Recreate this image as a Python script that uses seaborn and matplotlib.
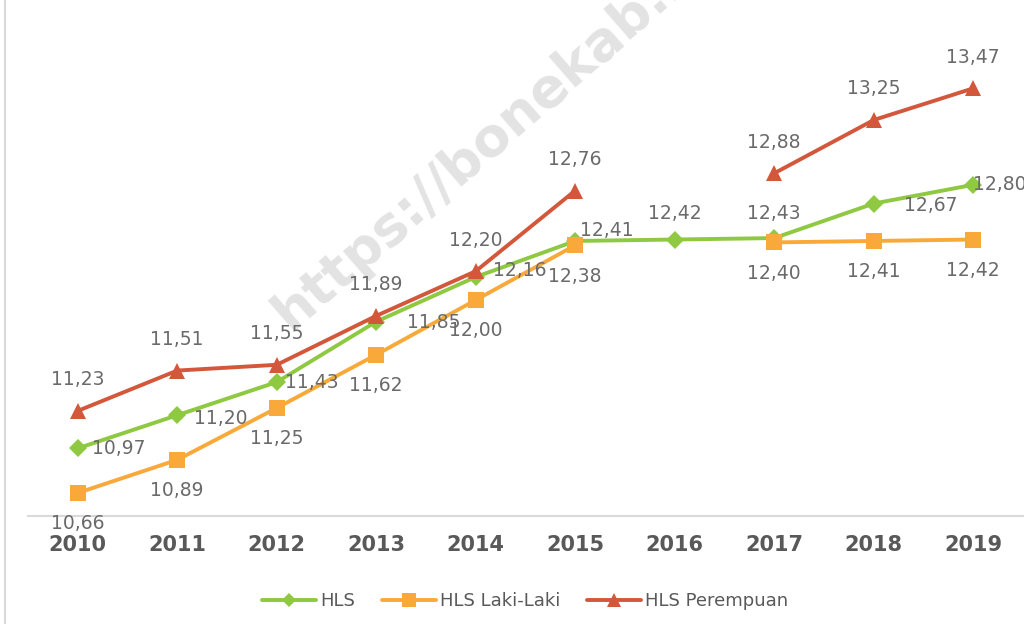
import matplotlib
matplotlib.use("Agg")
import matplotlib.pyplot as plt
import numpy as np
import pandas as pd
import seaborn as sns
from matplotlib.lines import Line2D

YEARS = [2010, 2011, 2012, 2013, 2014, 2015, 2016, 2017, 2018, 2019]
HLS = [10.97, 11.20, 11.43, 11.85, 12.16, 12.41, 12.42, 12.43, 12.67, 12.80]
HLS_LAKI = [10.66, 10.89, 11.25, 11.62, 12.00, 12.38, np.nan, 12.40, 12.41, 12.42]
HLS_PEREMPUAN = [11.23, 11.51, 11.55, 11.89, 12.20, 12.76, np.nan, 12.88, 13.25, 13.47]
SERIES_NAMES = ["HLS", "HLS Laki-Laki", "HLS Perempuan"]

COLORS = {"HLS": "#8fc841", "HLS Laki-Laki": "#f9a93a", "HLS Perempuan": "#d3573b"}
MARKERS = {"HLS": "D", "HLS Laki-Laki": "s", "HLS Perempuan": "^"}
MSIZE = {"HLS": 9, "HLS Laki-Laki": 12, "HLS Perempuan": 12}
TEXT_GREY = "#6a6a6a"
AXIS_GREY = "#d9d9d9"

# label offsets in pixels (dx, dy, ha)
GREEN_OFFSETS = [
    (14, 0, "left"), (17, -3, "left"), (8, 0, "left"), (31, -1, "left"),
    (17, 6, "left"), (5, 10, "left"), (0, 26, "center"), (0, 25, "center"),
    (30, -2, "left"), (0, 0, "left"),
]


def build_frame() -> pd.DataFrame:
    rows = []
    for name, vals in zip(SERIES_NAMES, [HLS, HLS_LAKI, HLS_PEREMPUAN]):
        seg = 0
        for yr, v in zip(YEARS, vals):
            if np.isnan(v):
                seg += 1
                continue
            rows.append({"year": yr, "value": v, "series": name, "seg": f"{name}-{seg}"})
    return pd.DataFrame(rows)


def main() -> None:
    sns.set_theme(style="white")
    plt.rcParams["font.family"] = ["DejaVu Sans"]

    df = build_frame()

    fig = plt.figure(figsize=(10.24, 6.24), dpi=100, facecolor="white")
    ax = fig.add_axes([28 / 1024, 108 / 624, 995 / 1024, 504 / 624])

    # watermark, drawn in figure pixels
    ax.text(
        290, 624 - 332, "https://bonekab.bps.go.id",
        transform=None, fontsize=39, fontweight="bold", color="#e3e3e3",
        rotation=41, rotation_mode="anchor", ha="left", va="baseline", zorder=0,
    )

    for name in SERIES_NAMES:
        sub = df[df["series"] == name]
        sns.lineplot(
            data=sub, x="year", y="value", units="seg", estimator=None,
            color=COLORS[name], marker=MARKERS[name], markersize=MSIZE[name],
            markeredgewidth=0, linewidth=2.8, ax=ax, legend=False, zorder=3,
        )

    for yr, v in zip(YEARS, HLS_PEREMPUAN):
        if not np.isnan(v):
            ax.annotate(f"{v:.2f}".replace(".", ","), (yr, v), xytext=(0, 31),
                        textcoords="offset pixels", ha="center", va="center",
                        fontsize=13.5, color=TEXT_GREY, zorder=5)
    for yr, v in zip(YEARS, HLS_LAKI):
        if not np.isnan(v):
            ax.annotate(f"{v:.2f}".replace(".", ","), (yr, v), xytext=(0, -31),
                        textcoords="offset pixels", ha="center", va="center",
                        fontsize=13.5, color=TEXT_GREY, zorder=5)
    for yr, v, (dx, dy, ha) in zip(YEARS, HLS, GREEN_OFFSETS):
        ax.annotate(f"{v:.2f}".replace(".", ","), (yr, v), xytext=(dx, dy),
                    textcoords="offset pixels", ha=ha, va="center",
                    fontsize=13.5, color=TEXT_GREY, zorder=5)

    ax.set_xlim(2009.5, 2019.5)
    ax.set_ylim(10.5, 14.0)
    ax.set_xticks(YEARS)
    ax.set_xticklabels([str(y) for y in YEARS], fontsize=15, fontweight="bold", color="#595959")
    ax.set_yticks([])
    ax.tick_params(axis="x", length=0, pad=14)
    ax.set_xlabel("")
    ax.set_ylabel("")
    for side in ["top", "right", "left"]:
        ax.spines[side].set_visible(False)
    ax.spines["bottom"].set_color(AXIS_GREY)
    ax.spines["bottom"].set_linewidth(1.5)
    ax.spines["bottom"].set_zorder(1)

    fig.add_artist(Line2D([5 / 1024, 5 / 1024], [0, 1], color=AXIS_GREY, linewidth=1.5))

    handles = [
        Line2D([], [], color=COLORS[n], marker=MARKERS[n], markersize=MSIZE[n] - 2,
               markeredgewidth=0, linewidth=2.8, label=n)
        for n in SERIES_NAMES
    ]
    fig.legend(handles=handles, loc="center", bbox_to_anchor=(525 / 1024, 1 - 601 / 624),
               ncol=3, frameon=False, fontsize=13, handlelength=3.0, handletextpad=0.2,
               columnspacing=1.5, labelcolor="#595959")

    fig.savefig("out.png", dpi=100, facecolor="white")
    plt.close(fig)


if __name__ == "__main__":
    main()
